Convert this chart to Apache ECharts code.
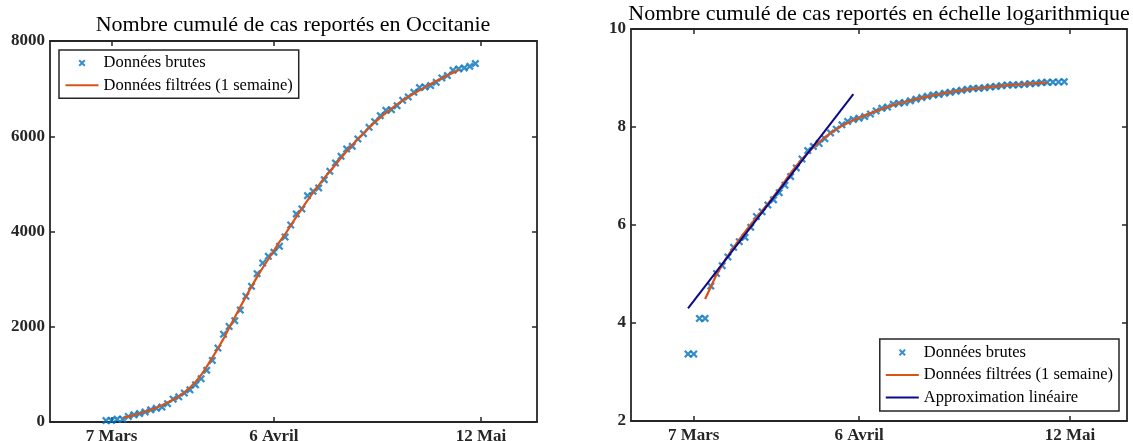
<!DOCTYPE html>
<html>
<head>
<meta charset="utf-8">
<script src="https://cdn.jsdelivr.net/npm/echarts@6/dist/echarts.min.js"></script>
<style>
  html, body { margin: 0; padding: 0; background: #fff; }
  #main { width: 1133px; height: 441px; }
</style>
</head>
<body>
<div id="main"></div>
<script>
// axe x en jours (indice 0 = premier relevé)
var xTicks = [1, 30, 67];
var xTickLabels = ['7 Mars', '6 Avril', '12 Mai'];

// cas cumulés, un relevé par jour
var rawStart = 0;
var rawCases = [29, 29, 60, 60, 116, 150, 176, 210, 256, 287,
  314, 385, 480, 528, 608, 675, 780, 908, 1084, 1292,
  1552, 1842, 2005, 2128, 2350, 2640, 2849, 3115, 3339, 3479,
  3563, 3689, 3885, 4137, 4368, 4473, 4753, 4844, 4914, 5089,
  5264, 5439, 5579, 5733, 5789, 5943, 6055, 6188, 6307, 6433,
  6545, 6559, 6643, 6755, 6825, 6923, 7021, 7035, 7063, 7133,
  7224, 7273, 7385, 7413, 7434, 7469, 7525];

// courbe filtrée (1 semaine)
var filtStart = 3;
var filtCases = [89, 114, 147, 179, 216, 254, 301, 351, 408, 468,
  539, 623, 723, 839, 986, 1162, 1352, 1544, 1750, 1973,
  2195, 2418, 2632, 2843, 3048, 3239, 3417, 3601, 3780, 3942,
  4124, 4307, 4482, 4654, 4815, 4968, 5126, 5266, 5401, 5548,
  5686, 5818, 5942, 6064, 6180, 6290, 6390, 6490, 6581, 6669,
  6753, 6823, 6895, 6965, 7032, 7096, 7162, 7218, 7275, 7333, 7389];

// approximation linéaire (log)
var approxDays = [0, 29];
var approxLog = [4.30, 8.67];

var serif = "'Liberation Serif', 'DejaVu Serif', serif";
var boxColor = '#262626';
var blue = '#0072BD', orange = '#D95319', navy = '#0A0A8C';
var cross = 'path://M0,2L2,0L5,3L8,0L10,2L7,5L10,8L8,10L5,7L2,10L0,8L3,5Z';

function pairs(start, arr, fn) {
  return arr.map(function (v, i) { return [start + i, fn ? fn(v) : v]; });
}

function xAx(grid, pos) {
  var main = pos === 'bottom';
  return {
    type: 'value', gridIndex: grid, position: pos, min: -10, max: 77,
    axisLine: { onZero: false, lineStyle: { color: boxColor, width: 1.8 } },
    axisTick: { inside: true, length: 5, customValues: xTicks, lineStyle: { color: boxColor, width: 1.5 } },
    axisLabel: {
      show: main, customValues: xTicks, margin: 6,
      formatter: function (v) { return xTickLabels[xTicks.indexOf(Math.round(v))]; },
      fontFamily: serif, fontWeight: 'bold', fontSize: 17, color: boxColor
    },
    splitLine: { show: false }
  };
}

function yAx(grid, pos, min, max, step) {
  return {
    type: 'value', gridIndex: grid, position: pos, min: min, max: max, interval: step,
    axisLine: { show: true, onZero: false, lineStyle: { color: boxColor, width: 1.8 } },
    axisTick: { show: true, inside: true, length: 5, lineStyle: { color: boxColor, width: 1.5 } },
    axisLabel: {
      show: pos === 'left', margin: 5,
      formatter: function (v) { return String(v); },
      fontFamily: serif, fontWeight: 'bold', fontSize: 17, color: boxColor
    },
    splitLine: { show: false }
  };
}

var legendBase = {
  orient: 'vertical', align: 'left', itemWidth: 33, itemHeight: 7,
  borderColor: boxColor, borderWidth: 1.5, backgroundColor: '#fff',
  selectedMode: false,
  textStyle: { fontFamily: serif, fontSize: 16.5, color: '#000', lineHeight: 14 }
};
var lineItem = function (name) { return { name: name, itemStyle: { opacity: 0 } }; };

var option = {
  animation: false,
  backgroundColor: '#fff',
  title: [
    { text: 'Nombre cumulé de cas reportés en Occitanie', left: 293, top: 25, padding: 0,
      textAlign: 'center', textVerticalAlign: 'middle',
      textStyle: { fontFamily: serif, fontWeight: 'normal', fontSize: 22, color: '#000' } },
    { text: 'Nombre cumulé de cas reportés en échelle logarithmique', left: 879, top: 14, padding: 0,
      textAlign: 'center', textVerticalAlign: 'middle',
      textStyle: { fontFamily: serif, fontWeight: 'normal', fontSize: 22, color: '#000' } }
  ],
  legend: [
    Object.assign({}, legendBase, {
      left: 59, top: 50, itemGap: 5.3, padding: [4.5, 6, 4.5, 5.5],
      data: ['Données brutes', lineItem('Données filtrées (1 semaine)')]
    }),
    Object.assign({}, legendBase, {
      right: 14, bottom: 30, itemGap: 5.6, padding: [4.9, 6, 4.9, 5],
      data: ['Données brutes', lineItem('Données filtrées (1 semaine)'), lineItem('Approximation linéaire')]
    })
  ],
  grid: [
    { left: 50, right: 596, top: 41, bottom: 19, outerBoundsMode: 'none' },
    { left: 631, right: 6, top: 29, bottom: 20, outerBoundsMode: 'none' }
  ],
  xAxis: [xAx(0, 'bottom'), xAx(0, 'top'), xAx(1, 'bottom'), xAx(1, 'top')],
  yAxis: [
    yAx(0, 'left', 0, 8000, 2000), yAx(0, 'right', 0, 8000, 2000),
    yAx(1, 'left', 2, 10, 2), yAx(1, 'right', 2, 10, 2)
  ],
  series: [
    { name: 'Données brutes', type: 'scatter', xAxisIndex: 0, yAxisIndex: 0,
      symbol: cross, symbolSize: 8, itemStyle: { color: blue },
      data: pairs(rawStart, rawCases) },
    { name: 'Données filtrées (1 semaine)', type: 'line', xAxisIndex: 0, yAxisIndex: 0,
      symbol: 'none', lineStyle: { color: orange, width: 2.2 }, itemStyle: { color: orange },
      data: pairs(filtStart, filtCases) },
    { name: 'Données brutes', type: 'scatter', xAxisIndex: 2, yAxisIndex: 2,
      symbol: cross, symbolSize: 8, itemStyle: { color: blue },
      data: pairs(rawStart, rawCases, Math.log) },
    { name: 'Données filtrées (1 semaine)', type: 'line', xAxisIndex: 2, yAxisIndex: 2,
      symbol: 'none', lineStyle: { color: orange, width: 2.2 }, itemStyle: { color: orange },
      data: pairs(filtStart, filtCases, Math.log) },
    { name: 'Approximation linéaire', type: 'line', xAxisIndex: 2, yAxisIndex: 2,
      symbol: 'none', lineStyle: { color: navy, width: 2 }, itemStyle: { color: navy },
      data: approxDays.map(function (d, i) { return [d, approxLog[i]]; }) }
  ]
};

var chart = echarts.init(document.getElementById('main'));
chart.setOption(option);
</script>
</body>
</html>
